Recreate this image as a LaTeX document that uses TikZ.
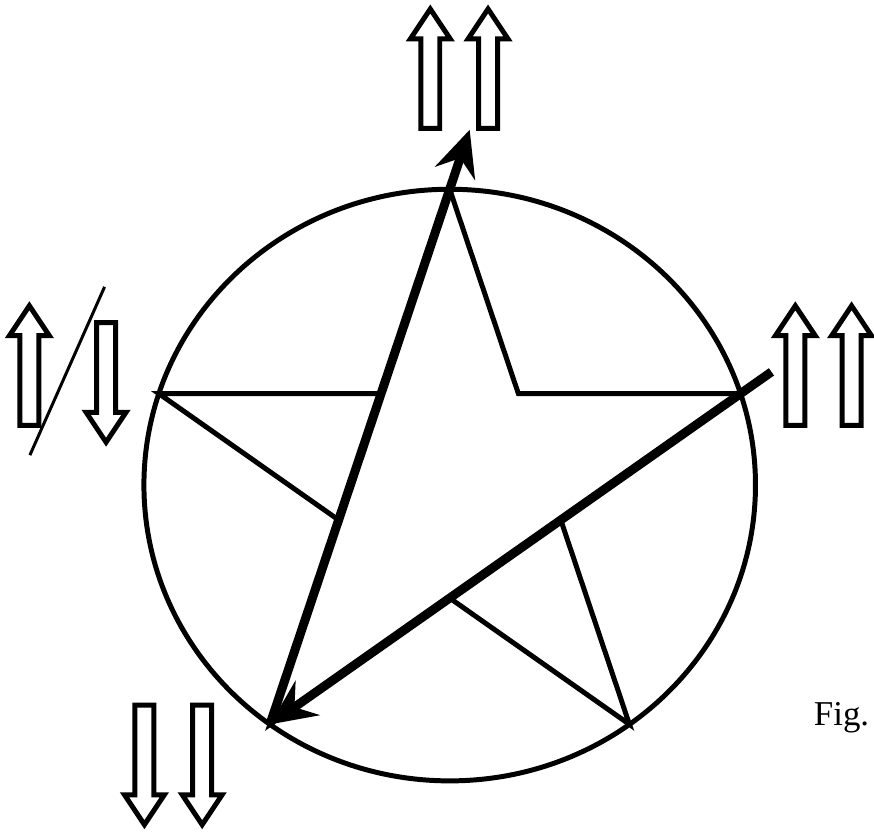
\documentclass[tikz,border=0pt]{standalone}
\usepackage{fontspec}
\setmainfont{Liberation Serif}
\usetikzlibrary{calc,arrows.meta}

\begin{document}
\begin{tikzpicture}[x=1pt,y=-1pt,>={Stealth[length=46pt,width=42pt,inset=16pt]},
  rim/.style={line width=5pt},
  fat/.style={line width=9pt,->},
  hollow/.style={line width=5pt,line join=miter,fill=white},
  pics/fatarrow/.style={code={
    \draw[hollow] (0,0) -- (20,30) -- (9.5,30) -- (9.5,#1) -- (-9.5,#1) -- (-9.5,30) -- (-20,30) -- cycle;}}]
  \fill[white] (0,0) rectangle (874,835);
  % circle and star
  \coordinate (O) at (451.5,487);
  \draw[rim] (O) ellipse [x radius=307pt, y radius=297pt];
  \foreach \a [count=\i] in {90,18,-54,-126,162}{
    \coordinate (P\i) at ($(O)+({307*cos(\a)},{-297*sin(\a)})$);
    \coordinate (Q\i) at ($(O)+({0.382*307*cos(\a-36)},{-0.382*297*sin(\a-36)})$);
  }
  \draw[rim] (P1)--(Q1)--(P2)--(Q2)--(P3)--(Q3)--(P4)--(Q4)--(P5)--(Q5)--cycle;
  % thick arrows
  \coordinate (s1) at ($(P2)!-38pt!(P4)$);
  \coordinate (s2) at ($(P1)!-63pt!(P4)$);
  \draw[fat] (s1) -- (P4);
  \draw[fat] (P4) -- (s2);
  % hollow arrows
  \foreach \x/\y in {432/9,490/9,798.5/307,855/307,29.5/307}
    \pic at (\x,\y) {fatarrow=120};
  \foreach \x/\y in {106.5/444,145/828,203/828}
    \pic[rotate=180] at (\x,\y) {fatarrow=120};
  \draw[line width=3pt] (105,288) -- (30,457);
  \node[anchor=base west,inner sep=0pt,font=\fontsize{35}{42}\selectfont] (cap) at (817,728) {Fig.};
\end{tikzpicture}
\end{document}
